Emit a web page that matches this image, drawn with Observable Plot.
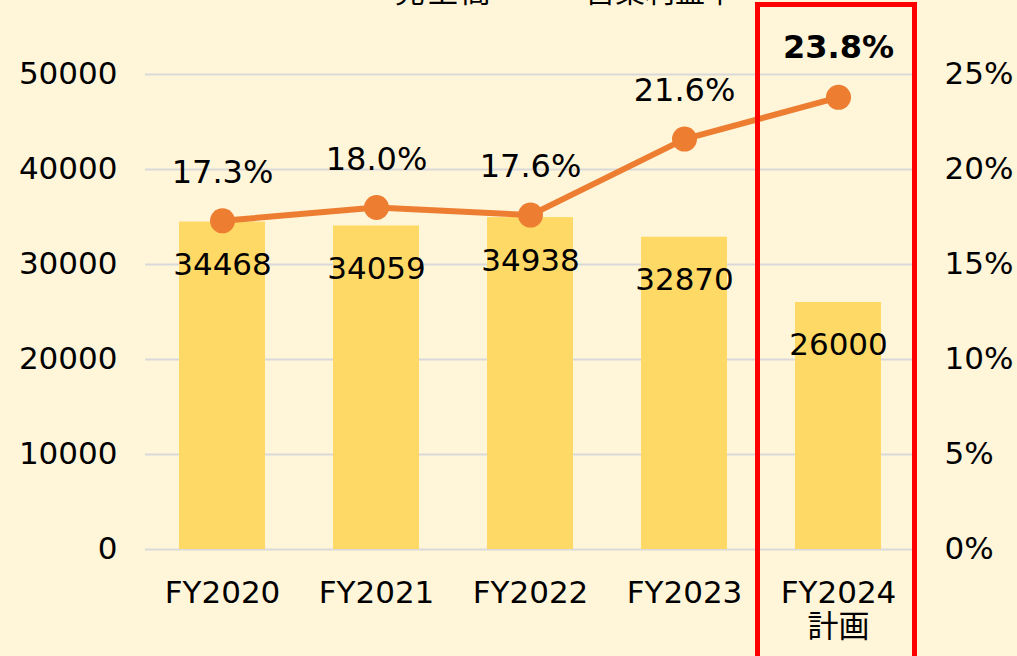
<!DOCTYPE html>
<html><head><meta charset="utf-8">
<script src="https://cdn.jsdelivr.net/npm/d3@7"></script>
<script src="https://cdn.jsdelivr.net/npm/@observablehq/plot@0.6"></script>
<style>
html,body{margin:0;padding:0;background:#FFF5D9;overflow:hidden;}
#wrap{position:relative;width:1017px;height:656px;overflow:hidden;}
#legend{position:absolute;top:-26px;left:0;width:1017px;height:30px;font-family:"Noto Sans CJK JP",sans-serif;font-size:30px;line-height:30px;color:#000;white-space:nowrap;}
#legend span{position:absolute;top:0;}
#chart{position:absolute;top:0;left:0;}
</style></head><body>
<div id="wrap"><div id="chart"></div><div id="legend"><span style="left:395px;letter-spacing:3px">売上高</span><span style="left:585px">営業利益率</span></div></div>
<script>
const categories = ["FY2020","FY2021","FY2022","FY2023","FY2024\n計画"];
const sales = [34468,34059,34938,32870,26000];
const margin = [17.3,18.0,17.6,21.6,23.8];
const leftTicks = [0,10000,20000,30000,40000,50000];
const rightTicks = [0,5,10,15,20,25];
const highlight = ["FY2024\n計画"];
const SCALE = 2000; // 25% on right axis = 50000 on left axis

const data = categories.map((c,i)=>({cat:c, sales:sales[i], margin:margin[i], m:margin[i]*SCALE, last:i===categories.length-1}));

const chart = Plot.plot({
  width:1017, height:656,
  marginTop:74, marginBottom:107, marginLeft:145, marginRight:102,
  style:{background:"transparent", fontFamily:'"DejaVu Sans","Noto Sans CJK JP",sans-serif', fontSize:"31px", color:"#000", overflow:"visible"},
  x:{domain:categories, paddingInner:0.44, paddingOuter:0.22},
  y:{domain:[0,50000]},
  marks:[
    Plot.ruleY(leftTicks, {stroke:"#D9D9D9", strokeWidth:2}),
    Plot.barY(data,{x:"cat", y:"sales", fill:"#FFD966"}),
    Plot.text(data,{x:"cat", y:"sales", text:d=>String(d.sales), dy:43, fontSize:31, fill:"#000"}),
    Plot.line(data,{x:"cat", y:"m", stroke:"#ED7D31", strokeWidth:6}),
    Plot.dot(data,{x:"cat", y:"m", r:12.5, fill:"#ED7D31"}),
    Plot.text(data,{filter:d=>!d.last, x:"cat", y:"m", text:d=>d.margin.toFixed(1)+"%", dy:-48, fontSize:32, fill:"#000"}),
    Plot.text(data,{filter:d=>d.last, x:"cat", y:"m", text:d=>d.margin.toFixed(1)+"%", dy:-50, fontSize:32, fontWeight:"bold", fill:"#000"}),
    Plot.axisY(leftTicks, {anchor:"left", tickSize:0, tickPadding:28, tickFormat:d=>String(d), fontSize:31, label:null}),
    Plot.axisY(rightTicks.map(v=>v*SCALE), {anchor:"right", tickSize:0, tickPadding:29, tickFormat:d=>(d/SCALE)+"%", fontSize:31, label:null}),
    Plot.axisX({tickSize:0, tickPadding:29, fontSize:31, lineHeight:1.1, label:null}),
    Plot.cell(highlight,{x:d=>d, stroke:"#FF0000", strokeWidth:5, fill:"none", insetLeft:-37.5, insetRight:-33.5, insetTop:-69.5, insetBottom:-120})
  ]
});
document.getElementById("chart").appendChild(chart);
</script>
</body></html>
